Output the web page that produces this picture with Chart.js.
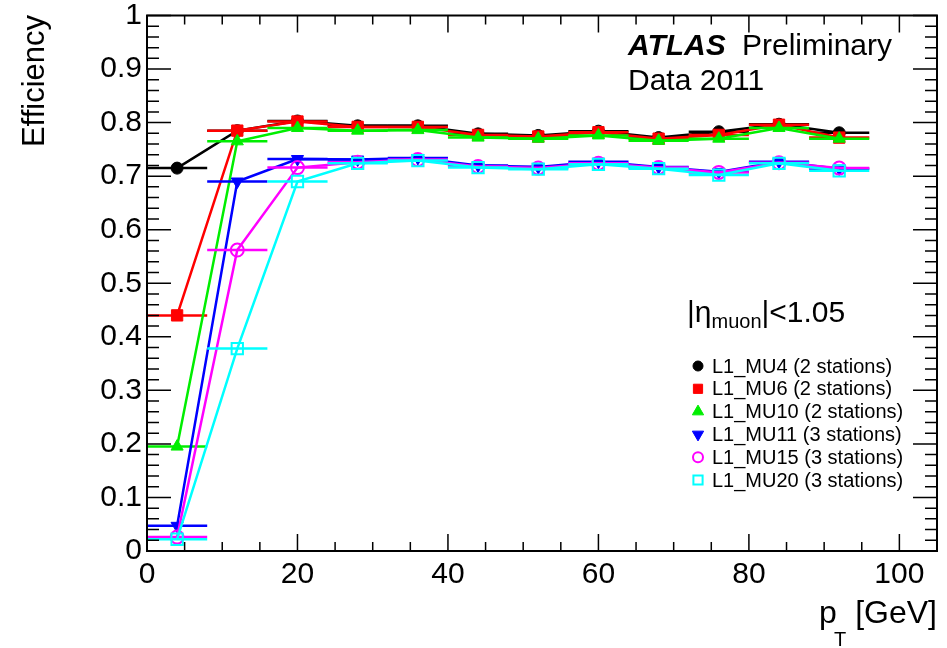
<!DOCTYPE html>
<html>
<head>
<meta charset="utf-8">
<script src="https://cdn.jsdelivr.net/npm/chart.js@4"></script>
<style>
  html, body { margin: 0; padding: 0; background: #fff; }
</style>
</head>
<body>
<canvas id="effChart" width="947" height="648"></canvas>
<script>
// pT bin centres (8 GeV wide bins)
const ptBins = [4, 12, 20, 28, 36, 44, 52, 60, 68, 76, 84, 92];
const ptHalfWidth = 4;

const effMU4  = [0.715, 0.785, 0.803, 0.794, 0.794, 0.779, 0.776, 0.784, 0.772, 0.783, 0.797, 0.781];
const effMU6  = [0.440, 0.785, 0.802, 0.792, 0.792, 0.777, 0.774, 0.782, 0.770, 0.777, 0.796, 0.772];
const effMU10 = [0.195, 0.765, 0.790, 0.785, 0.786, 0.772, 0.770, 0.776, 0.766, 0.770, 0.790, 0.770];
const effMU11 = [0.047, 0.690, 0.732, 0.731, 0.734, 0.720, 0.717, 0.727, 0.717, 0.708, 0.727, 0.714];
const effMU15 = [0.026, 0.562, 0.716, 0.726, 0.731, 0.718, 0.715, 0.724, 0.716, 0.707, 0.725, 0.715];
const effMU20 = [0.022, 0.378, 0.690, 0.724, 0.729, 0.716, 0.713, 0.722, 0.714, 0.702, 0.724, 0.710];

const seriesNames = [
  "L1_MU4 (2 stations)", "L1_MU6 (2 stations)", "L1_MU10 (2 stations)",
  "L1_MU11 (3 stations)", "L1_MU15 (3 stations)", "L1_MU20 (3 stations)"
];

const xTicks = [0, 20, 40, 60, 80, 100];
const xTickLabels = ["0", "20", "40", "60", "80", "100"];
const yTicks = [0, 0.1, 0.2, 0.3, 0.4, 0.5, 0.6, 0.7, 0.8, 0.9, 1];
const yTickLabels = ["0", "0.1", "0.2", "0.3", "0.4", "0.5", "0.6", "0.7", "0.8", "0.9", "1"];

const FONT = "'Liberation Sans', Arial, Helvetica, sans-serif";

const styles = [
  { color: "#000000", point: "circle",   fill: true,  rot: 0,   r: 6 },
  { color: "#ff0000", point: "rect",     fill: true,  rot: 0,   r: 8 },
  { color: "#00ee00", point: "triangle", fill: true,  rot: 0,   r: 7 },
  { color: "#0000ff", point: "triangle", fill: true,  rot: 180, r: 7 },
  { color: "#ff00ff", point: "circle",   fill: false, rot: 0,   r: 6.5 },
  { color: "#00ffff", point: "rect",     fill: false, rot: 0,   r: 8 }
];
const allSeries = [effMU4, effMU6, effMU10, effMU11, effMU15, effMU20];

const datasets = allSeries.map((vals, i) => ({
  label: seriesNames[i],
  data: ptBins.map((x, j) => ({ x: x, y: vals[j] })),
  borderColor: styles[i].color,
  backgroundColor: styles[i].fill ? styles[i].color : "rgba(0,0,0,0)",
  borderWidth: 2.5,
  pointStyle: styles[i].point,
  pointRotation: styles[i].rot,
  pointRadius: styles[i].r,
  pointBorderWidth: styles[i].fill ? 1 : 2,
  pointBackgroundColor: styles[i].fill ? styles[i].color : "rgba(0,0,0,0)",
  tension: 0,
  order: 5 - i
}));

// horizontal bin-width error bars
const binBars = {
  id: "binBars",
  afterDatasetDraw(chart, args) {
    const ctx = chart.ctx;
    const xs = chart.scales.x, ys = chart.scales.y;
    const ds = chart.data.datasets[args.index];
    ctx.save();
    ctx.strokeStyle = ds.borderColor;
    ctx.lineWidth = 2.5;
    ds.data.forEach(p => {
      const y = ys.getPixelForValue(p.y);
      ctx.beginPath();
      ctx.moveTo(xs.getPixelForValue(p.x - ptHalfWidth), y);
      ctx.lineTo(xs.getPixelForValue(p.x + ptHalfWidth), y);
      ctx.stroke();
    });
    ctx.restore();
  }
};

// ROOT-like frame with inner ticks on all four sides
const frame = {
  id: "frame",
  afterDraw(chart) {
    const ctx = chart.ctx;
    const a = chart.chartArea;
    const xs = chart.scales.x, ys = chart.scales.y;
    ctx.save();
    ctx.strokeStyle = "#000";
    ctx.lineWidth = 1.5;
    for (let v = 0; v <= 105.001; v += 5) {
      const px = xs.getPixelForValue(v);
      const len = (v % 20 === 0) ? 17 : 9;
      ctx.beginPath();
      ctx.moveTo(px, a.bottom); ctx.lineTo(px, a.bottom - len);
      ctx.moveTo(px, a.top); ctx.lineTo(px, a.top + len);
      ctx.stroke();
    }
    for (let k = 0; k <= 50; k++) {
      const py = ys.getPixelForValue(k * 0.02);
      const len = (k % 5 === 0) ? 24 : 12;
      ctx.beginPath();
      ctx.moveTo(a.left, py); ctx.lineTo(a.left + len, py);
      ctx.moveTo(a.right, py); ctx.lineTo(a.right - len, py);
      ctx.stroke();
    }
    ctx.lineWidth = 2;
    ctx.strokeRect(a.left, a.top, a.right - a.left, a.bottom - a.top);
    ctx.restore();
  }
};

const labels = {
  id: "labels",
  afterDraw(chart) {
    const ctx = chart.ctx;
    ctx.save();
    ctx.fillStyle = "#000";
    ctx.textBaseline = "alphabetic";

    // ATLAS Preliminary
    ctx.font = "italic bold 30px " + FONT;
    ctx.textAlign = "left";
    ctx.fillText("ATLAS", 628, 55);
    ctx.font = "30px " + FONT;
    ctx.fillText("Preliminary", 742, 55);
    ctx.fillText("Data 2011", 628, 90);

    // |eta_muon| < 1.05
    ctx.font = "30px " + FONT;
    let x = 687;
    ctx.fillText("|\u03b7", x, 322);
    x += ctx.measureText("|\u03b7").width;
    ctx.font = "20px " + FONT;
    ctx.fillText("muon", x, 328);
    x += ctx.measureText("muon").width;
    ctx.font = "30px " + FONT;
    ctx.fillText("|<1.05", x, 322);

    // legend
    ctx.font = "20px " + FONT;
    ctx.textBaseline = "middle";
    chart.data.datasets.forEach((ds, i) => {
      const cy = 366 + i * 22.8;
      ctx.strokeStyle = ds.borderColor;
      ctx.fillStyle = ds.pointBackgroundColor;
      ctx.lineWidth = ds.pointBorderWidth;
      const r = ds.pointStyle === "circle" ? 5 : 6.5;
      Chart.helpers.drawPoint(ctx, {
        pointStyle: ds.pointStyle, rotation: ds.pointRotation,
        radius: r, borderWidth: ds.pointBorderWidth
      }, 698, cy);
      ctx.fillStyle = "#000";
      ctx.fillText(ds.label, 712, cy + 1);
    });

    // axis titles
    ctx.textBaseline = "alphabetic";
    ctx.font = "31px " + FONT;
    ctx.save();
    ctx.translate(44, 15);
    ctx.rotate(-Math.PI / 2);
    ctx.textAlign = "right";
    ctx.fillText("Efficiency", 0, 0);
    ctx.restore();

    ctx.font = "32px " + FONT;
    ctx.textAlign = "right";
    ctx.fillText("[GeV]", 937, 623);
    ctx.textAlign = "left";
    ctx.fillText("p", 819, 623);
    ctx.font = "20px " + FONT;
    ctx.fillText("T", 834, 646);
    ctx.restore();
  }
};

new Chart(document.getElementById("effChart"), {
  type: "line",
  data: { datasets },
  plugins: [binBars, frame, labels],
  options: {
    responsive: false,
    animation: false,
    layout: { padding: { top: 12, right: 10, left: 0, bottom: 0 } },
    plugins: { legend: { display: false }, tooltip: { enabled: false } },
    scales: {
      x: {
        type: "linear", min: 0, max: 105,
        grid: { display: false, drawTicks: false }, border: { display: false },
        afterBuildTicks: s => { s.ticks = xTicks.map(v => ({ value: v })); },
        afterFit: s => { s.height = 97; },
        ticks: {
          autoSkip: false, maxRotation: 0, padding: 6, color: "#000",
          font: { family: FONT, size: 30 },
          callback: (v, i) => xTickLabels[i]
        }
      },
      y: {
        type: "linear", min: 0, max: 1,
        grid: { display: false, drawTicks: false }, border: { display: false },
        afterBuildTicks: s => { s.ticks = yTicks.map(v => ({ value: v })); },
        afterFit: s => { s.width = 147; },
        ticks: {
          autoSkip: false, padding: 5, color: "#000",
          font: { family: FONT, size: 30, lineHeight: 0.7 },
          callback: (v, i) => yTickLabels[i]
        }
      }
    }
  }
});
</script>
</body>
</html>
